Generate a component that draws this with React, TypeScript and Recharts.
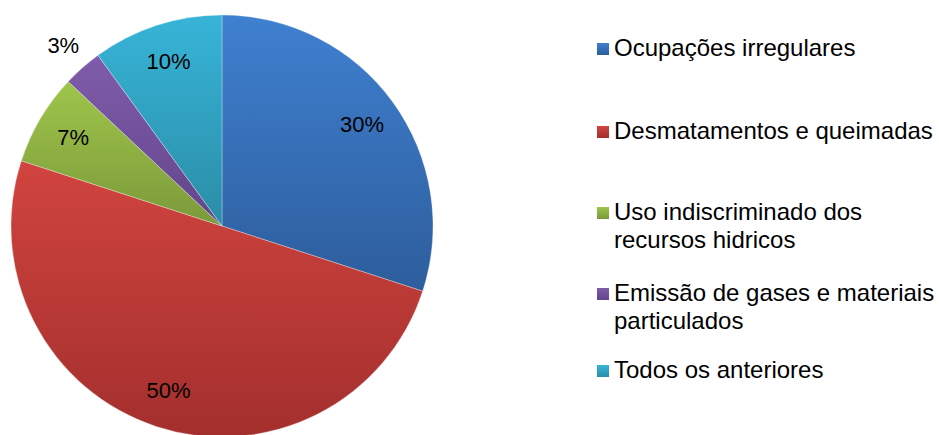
import React from 'react';
import { PieChart, Pie, Cell, Legend } from 'recharts';

const categories = [
  'Ocupações irregulares',
  'Desmatamentos e queimadas',
  'Uso indiscriminado dos recursos hidricos',
  'Emissão de gases e materiais particulados',
  'Todos os anteriores',
];
const shares = [30, 50, 7, 3, 10];
const topColors = ['#3f80d0', '#d1443f', '#9fc54b', '#7f5cab', '#37b4d8'];
const bottomColors = ['#2d5d9c', '#a32f2d', '#7b993a', '#62458a', '#2a8da6'];

const data = categories.map((name, i) => ({ name, value: shares[i] }));

const FONT = '"Liberation Sans", Arial, sans-serif';
const RAD = Math.PI / 180;

// vertical offsets of the legend rows (Excel spreads them unevenly)
const rowTops = [0, 83, 164, 245, 322];

const renderLabel = (props: any) => {
  const { cx, cy, midAngle, outerRadius, value } = props;
  const r = value < 5 ? outerRadius + 29 : outerRadius * 0.82;
  const x = cx + r * Math.cos(-midAngle * RAD);
  const y = cy + r * Math.sin(-midAngle * RAD);
  return (
    <text x={x} y={y} fill="#000" fontSize={22} fontFamily={FONT} textAnchor="middle" dominantBaseline="central">
      {`${value}%`}
    </text>
  );
};

const renderLegend = () => (
  <div style={{ position: 'relative', width: 342, height: 380, fontFamily: FONT }}>
    {categories.map((name, i) => (
      <div key={name} style={{ position: 'absolute', top: rowTops[i], left: 0, width: 342 }}>
        <span
          style={{
            position: 'absolute',
            left: 0,
            top: 9,
            width: 12,
            height: 12,
            background: `linear-gradient(to bottom, ${topColors[i]}, ${bottomColors[i]})`,
          }}
        />
        <div style={{ marginLeft: 17, width: 325, fontSize: 24, lineHeight: '28px', color: '#000' }}>{name}</div>
      </div>
    ))}
  </div>
);

export default function App() {
  return (
    <div style={{ position: 'absolute', left: 0, top: 0, width: 939, height: 435, background: '#fff' }}>
      <PieChart width={939} height={435} margin={{ top: 0, right: 0, bottom: 0, left: 0 }}>
        <defs>
          {topColors.map((c, i) => (
            <linearGradient key={c} id={`grad${i}`} x1="0" y1="0" x2="0" y2="1">
              <stop offset="0%" stopColor={c} />
              <stop offset="100%" stopColor={bottomColors[i]} />
            </linearGradient>
          ))}
        </defs>
        <Pie
          data={data}
          dataKey="value"
          nameKey="name"
          cx={222}
          cy={226}
          outerRadius={211}
          startAngle={90}
          endAngle={-270}
          stroke="rgba(255,255,255,0.5)"
          strokeWidth={0.6}
          label={renderLabel}
          labelLine={false}
          isAnimationActive={false}
        >
          {data.map((d, i) => (
            <Cell key={d.name} fill={`url(#grad${i})`} />
          ))}
        </Pie>
        <Legend
          content={renderLegend}
          layout="vertical"
          verticalAlign="top"
          align="right"
          wrapperStyle={{ left: 597, top: 34, width: 342 }}
        />
      </PieChart>
    </div>
  );
}
